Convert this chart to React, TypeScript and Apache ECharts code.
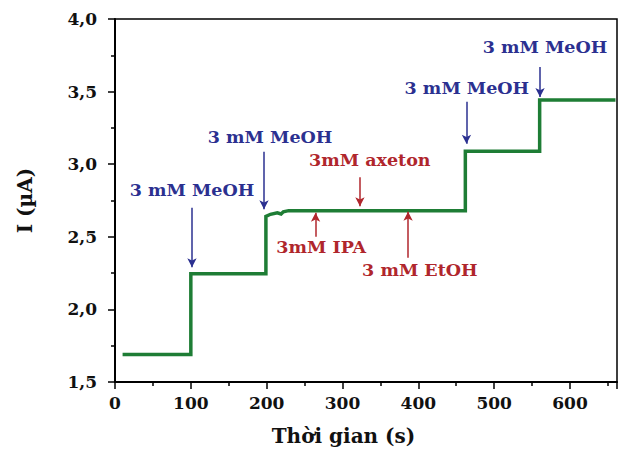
import React, { useEffect, useRef } from "react";
import * as echarts from "echarts";

// Main amperometric trace (time in s, current in µA)
const times = [10, 100, 100, 199, 199, 205, 214, 219, 222, 229, 462, 462, 560, 560, 660];
const currents = [1.69, 1.69, 2.245, 2.245, 2.64, 2.655, 2.665, 2.657, 2.672, 2.68, 2.68, 3.09, 3.09, 3.443, 3.443];

// Annotations
const annotLabels = ["3 mM MeOH", "3 mM MeOH", "3 mM MeOH", "3 mM MeOH", "3mM axeton", "3mM IPA", "3 mM EtOH"];
const annotKind = ["blue", "blue", "blue", "blue", "red", "red", "red"];
const annotArrowX = [101.5, 196.5, 463.5, 560.5, 323, 264.5, 386.5];
const annotArrowFrom = [2.7, 3.085, 3.43, 3.67, 2.91, 2.5, 2.355];
const annotArrowTo = [2.29, 2.69, 3.14, 3.462, 2.71, 2.665, 2.673];
const annotTextX = [101.5, 204.5, 464, 567, 336, 272, 402];
const annotTextY = [2.82, 3.19, 3.525, 3.81, 3.03, 2.43, 2.273];

const xTicks = [0, 100, 200, 300, 400, 500, 600];
const yTicks = [1.5, 2.0, 2.5, 3.0, 3.5, 4.0];

const BLUE = "#2b3090";
const RED = "#b0262c";
const GREEN = "#1e7d35";
const FONT = "'DejaVu Serif', 'Liberation Serif', serif";

export default function App() {
  const ref = useRef<HTMLDivElement>(null);
  useEffect(() => {
    if (!ref.current) return;
    const chart = echarts.init(ref.current, undefined, { renderer: "svg" });
    const colorOf = (k: string) => (k === "blue" ? BLUE : RED);
    const lineData = times.map((t, i) => [t, currents[i]]);
    const arrows = annotLabels.map((_, i) => [
      { coord: [annotArrowX[i], annotArrowFrom[i]], lineStyle: { color: colorOf(annotKind[i]) }, itemStyle: { color: colorOf(annotKind[i]) } },
      { coord: [annotArrowX[i], annotArrowTo[i]], lineStyle: { color: colorOf(annotKind[i]) }, itemStyle: { color: colorOf(annotKind[i]) } },
    ]);
    const texts = annotLabels.map((lab, i) => ({
      coord: [annotTextX[i], annotTextY[i]],
      value: lab,
      label: { color: colorOf(annotKind[i]) },
    }));
    chart.setOption({
      animation: false,
      grid: {
        left: 115,
        right: 4,
        top: 19,
        bottom: 72,
        show: true,
        borderColor: "#000",
        borderWidth: 1.5,
        backgroundColor: "transparent",
      },
      xAxis: {
        type: "value",
        min: 0,
        max: 662,
        interval: 100,
        name: "Thời gian (s)",
        nameLocation: "middle",
        nameGap: 44,
        nameTextStyle: { fontFamily: FONT, fontWeight: "bold", fontSize: 20, color: "#111", padding: [0, 45, 0, 0] },
        axisLine: { show: true, lineStyle: { color: "#000", width: 2 } },
        axisTick: { show: true, inside: false, length: 7, lineStyle: { color: "#000", width: 1.5 } },
        minorTick: { show: true, splitNumber: 2, length: 4, lineStyle: { color: "#000", width: 1.5 } },
        axisLabel: {
          margin: 12,
          fontFamily: FONT,
          fontWeight: "bold",
          fontSize: 17,
          color: "#111",
          showMaxLabel: false,
          formatter: (v: number) => (xTicks.includes(v) ? String(v) : ""),
        },
        splitLine: { show: false },
      },
      yAxis: {
        type: "value",
        min: 1.5,
        max: 4.0,
        interval: 0.5,
        name: "I (µA)",
        nameLocation: "middle",
        nameGap: 80,
        nameRotate: 90,
        nameTextStyle: { fontFamily: FONT, fontWeight: "bold", fontSize: 20, color: "#111" },
        axisLine: { show: true, lineStyle: { color: "#000", width: 2 } },
        axisTick: { show: true, inside: false, length: 7, lineStyle: { color: "#000", width: 1.5 } },
        minorTick: { show: true, splitNumber: 2, length: 4, lineStyle: { color: "#000", width: 1.5 } },
        axisLabel: {
          margin: 18,
          fontFamily: FONT,
          fontWeight: "bold",
          fontSize: 17,
          color: "#111",
          formatter: (v: number) => {
            const m = yTicks.find((t) => Math.abs(t - v) < 1e-6);
            return m === undefined ? "" : m.toFixed(1).replace(".", ",");
          },
        },
        splitLine: { show: false },
      },
      series: [
        {
          type: "line",
          data: lineData,
          showSymbol: false,
          symbol: "none",
          lineStyle: { color: GREEN, width: 3.5, join: "miter" },
          z: 3,
          markLine: {
            silent: true,
            symbol: ["none", "arrow"],
            symbolSize: [7, 9],
            label: { show: false },
            lineStyle: { type: "solid", width: 1.5 },
            emphasis: { disabled: true },
            data: arrows,
          },
          markPoint: {
            silent: true,
            symbol: "circle",
            symbolSize: 0,
            label: {
              show: true,
              position: "inside",
              fontFamily: FONT,
              fontWeight: "bold",
              fontSize: 17.5,
              formatter: (p: any) => p.value,
            },
            data: texts,
          },
        },
      ],
    });
    return () => chart.dispose();
  }, []);
  return <div ref={ref} style={{ width: 621, height: 454, position: "absolute", left: 0, top: 0, background: "#fff" }} />;
}
